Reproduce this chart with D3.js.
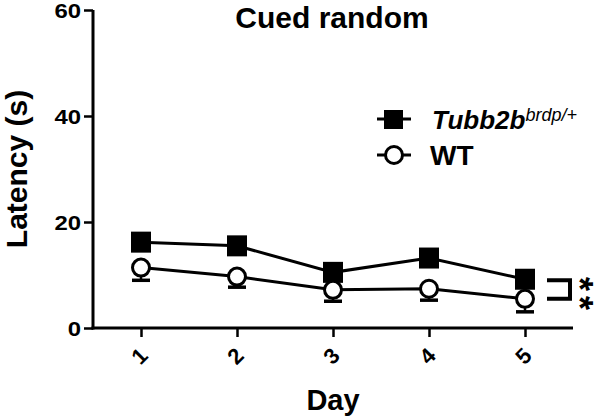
<!DOCTYPE html>
<html>
<head>
<meta charset="utf-8">
<script src="https://cdn.jsdelivr.net/npm/d3@7"></script>
<style>
  html, body { margin: 0; padding: 0; background: #fff; }
  svg { display: block; }
  text { font-family: "Liberation Sans", Arial, Helvetica, sans-serif; fill: #000; }
</style>
</head>
<body>
<svg id="chart" width="601" height="420"></svg>
<script>
// ---- data ----
const days = [1, 2, 3, 4, 5];
const tubbMean = [16.2, 15.5, 10.5, 13.2, 9.2];
const tubbSem  = [1.4, 1.3, 1.5, 1.4, 1.5];
const wtMean   = [11.4, 9.7, 7.2, 7.4, 5.5];
const wtSem    = [2.4, 2.0, 2.15, 2.15, 2.45];
const yTicks   = [0, 20, 40, 60];
const xTickLabels = ["1", "2", "3", "4", "5"];
const titleText = "Cued random";
const xLabel = "Day";
const yLabel = "Latency (s)";
const legendMain = "Tubb2b";
const legendSup = "brdp/+";
const legendWT = "WT";
const sigText = "*";

// ---- layout ----
const svg = d3.select("#chart");
const x = d3.scaleLinear().domain([0.5, 5.5]).range([93, 573]);
const y = d3.scaleLinear().domain([0, 60]).range([328, 10]);

// title
svg.append("text").attr("x", 332).attr("y", 28)
  .attr("text-anchor", "middle").attr("font-size", 30).attr("font-weight", "bold")
  .text(titleText);

// y axis
const yAxis = d3.axisLeft(y).tickValues(yTicks).tickSize(9).tickPadding(3).tickFormat(d3.format("d"));
const gy = svg.append("g").attr("transform", "translate(93,0)").call(yAxis);
gy.select(".domain").attr("stroke", "#000").attr("stroke-width", 3).attr("d", `M0,${y(60)}V${y(0)+1.5}`);
gy.selectAll(".tick line").attr("stroke", "#000").attr("stroke-width", 2.5);
gy.selectAll(".tick text").attr("font-size", 20).attr("font-weight", "bold")
  .attr("font-family", "'Liberation Sans', Arial, sans-serif").attr("fill", "#000")
  .attr("dy", "0.36em")
  .each(function(d){ const s = String(d); d3.select(this).attr("textLength", s.length * 13.3).attr("lengthAdjust", "spacingAndGlyphs"); });

// x axis
const xAxis = d3.axisBottom(x).tickValues(days).tickSize(9).tickFormat((d,i) => xTickLabels[i]);
const gx = svg.append("g").attr("transform", `translate(0,${y(0)})`).call(xAxis);
gx.select(".domain").attr("stroke", "#000").attr("stroke-width", 3).attr("d", `M${x(0.5)-1.5},0H${x(5.5)}`);
gx.selectAll(".tick line").attr("stroke", "#000").attr("stroke-width", 2.5);
gx.selectAll(".tick text").attr("font-size", 22).attr("font-weight", "bold")
  .attr("font-family", "'Liberation Sans', Arial, sans-serif").attr("fill", "#000")
  .attr("y", 0).attr("dy", "0.35em").attr("text-anchor", "middle")
  .attr("transform", "translate(-2,28) rotate(-45)");

// axis labels
svg.append("text").attr("x", x(3)).attr("y", 410)
  .attr("text-anchor", "middle").attr("font-size", 29).attr("font-weight", "bold").text(xLabel);
svg.append("text").attr("transform", "translate(27,169) rotate(-90)")
  .attr("text-anchor", "middle").attr("font-size", 30).attr("font-weight", "bold").text(yLabel);

const line = d3.line().x((d,i) => x(days[i])).y(d => y(d));
const capW = 18;

// Tubb2b series
const gT = svg.append("g");
gT.selectAll("line.eb").data(tubbMean).join("line")
  .attr("x1", (d,i) => x(days[i])).attr("x2", (d,i) => x(days[i]))
  .attr("y1", d => y(d)).attr("y2", (d,i) => y(d + tubbSem[i]))
  .attr("stroke", "#000").attr("stroke-width", 2.5);
gT.selectAll("line.cap").data(tubbMean).join("line")
  .attr("x1", (d,i) => x(days[i]) - capW/2).attr("x2", (d,i) => x(days[i]) + capW/2)
  .attr("y1", (d,i) => y(d + tubbSem[i])).attr("y2", (d,i) => y(d + tubbSem[i]))
  .attr("stroke", "#000").attr("stroke-width", 3);
gT.append("path").datum(tubbMean).attr("d", line).attr("fill", "none").attr("stroke", "#000").attr("stroke-width", 3);
gT.selectAll("rect").data(tubbMean).join("rect")
  .attr("x", (d,i) => x(days[i]) - 10).attr("y", d => y(d) - 10.5)
  .attr("width", 20).attr("height", 21).attr("fill", "#000");

// WT series
const gW = svg.append("g");
gW.selectAll("line.eb").data(wtMean).join("line")
  .attr("x1", (d,i) => x(days[i])).attr("x2", (d,i) => x(days[i]))
  .attr("y1", d => y(d)).attr("y2", (d,i) => y(d - wtSem[i]))
  .attr("stroke", "#000").attr("stroke-width", 2.5);
gW.selectAll("line.cap").data(wtMean).join("line")
  .attr("x1", (d,i) => x(days[i]) - capW/2).attr("x2", (d,i) => x(days[i]) + capW/2)
  .attr("y1", (d,i) => y(d - wtSem[i])).attr("y2", (d,i) => y(d - wtSem[i]))
  .attr("stroke", "#000").attr("stroke-width", 3.5);
gW.append("path").datum(wtMean).attr("d", line).attr("fill", "none").attr("stroke", "#000").attr("stroke-width", 3);
gW.selectAll("circle").data(wtMean).join("circle")
  .attr("cx", (d,i) => x(days[i])).attr("cy", d => y(d)).attr("r", 8.5)
  .attr("fill", "#fff").attr("stroke", "#000").attr("stroke-width", 3);

// significance bracket
const last = days.length - 1;
const bTop = y(tubbMean[last]) + 1, bBot = y(wtMean[last]);
svg.append("path")
  .attr("d", `M547,${bTop}H570V${bBot}H547`)
  .attr("fill", "none").attr("stroke", "#000").attr("stroke-width", 4);
[284, 303].forEach(cy => {
  svg.append("text").attr("transform", `translate(588,${cy}) rotate(90)`)
    .attr("text-anchor", "middle").attr("dy", "0.58em")
    .attr("font-size", 36).attr("font-weight", "bold").text(sigText);
});

// legend
const lg = svg.append("g");
lg.append("line").attr("x1", 377).attr("x2", 411).attr("y1", 119).attr("y2", 119).attr("stroke", "#000").attr("stroke-width", 3);
lg.append("rect").attr("x", 384).attr("y", 110).attr("width", 19).attr("height", 19).attr("fill", "#000");
const t1 = lg.append("text").attr("x", 432).attr("y", 129).attr("font-size", 26).attr("font-weight", "bold").attr("font-style", "italic");
t1.append("tspan").text(legendMain);
t1.append("tspan").attr("font-size", 18).attr("font-weight", "normal").attr("dy", -8).text(legendSup);
lg.append("line").attr("x1", 377).attr("x2", 411).attr("y1", 155).attr("y2", 155).attr("stroke", "#000").attr("stroke-width", 3);
lg.append("circle").attr("cx", 394).attr("cy", 155).attr("r", 8.5).attr("fill", "#fff").attr("stroke", "#000").attr("stroke-width", 3);
lg.append("text").attr("x", 430).attr("y", 165).attr("font-size", 28).attr("font-weight", "bold").text(legendWT);
</script>
</body>
</html>
